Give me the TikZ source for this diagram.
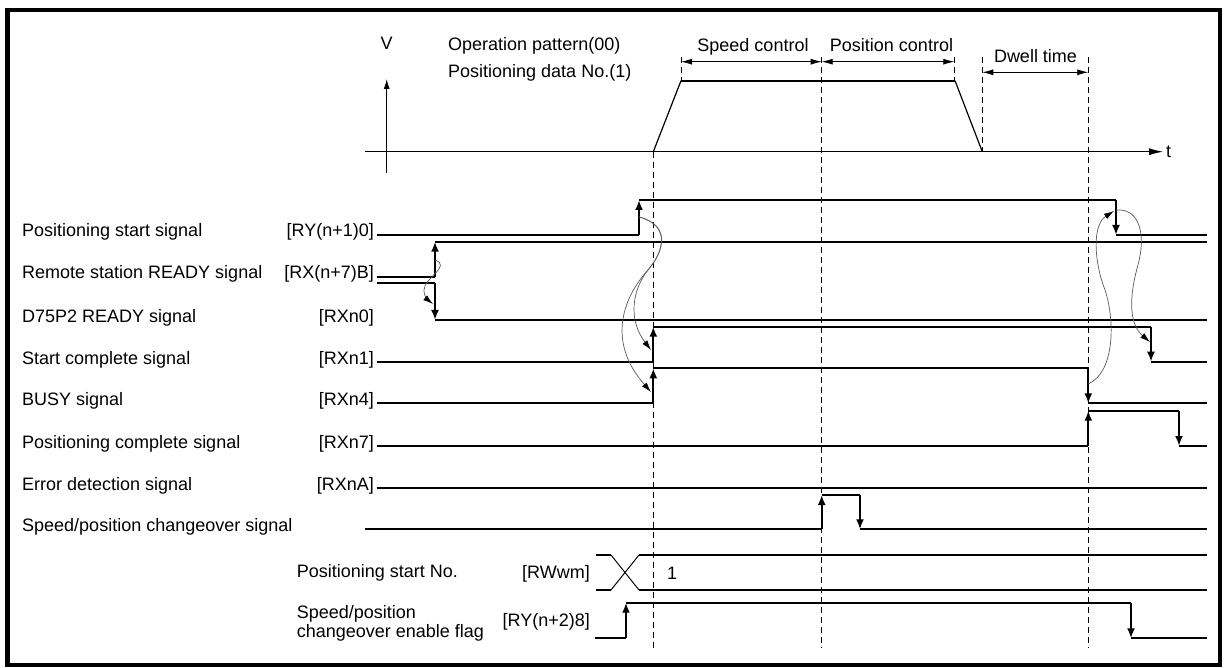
\documentclass[tikz,border=0pt]{standalone}
\usepackage{fontspec}
\setmainfont{Liberation Sans}
\usetikzlibrary{arrows.meta}
\begin{document}
\begin{tikzpicture}[x=1pt,y=-1pt,
  txt/.style={inner sep=0pt, font=\fontsize{18}{20}\selectfont},
  lbl/.style={txt, anchor=base west},
  tag/.style={txt, anchor=base east},
  ctr/.style={txt, anchor=base},
  sig/.style={line width=2pt},
  edgeup/.style={line width=2pt, -{Latex[length=10pt,width=8pt]}},
  axis/.style={line width=1pt},
  dsh/.style={line width=0.9pt, dash pattern=on 6pt off 4pt},
  dim/.style={line width=0.8pt, {Latex[length=11pt,width=6pt]}-{Latex[length=11pt,width=6pt]}},
  cause/.style={line width=0.7pt, draw=black!65, -{Latex[length=10pt,width=6pt,color=black]}}
]
\useasboundingbox (0,0) rectangle (1224,668);
% frame
\draw[line width=4.5pt] (7.5,10) rectangle (1220,665);

% ---- velocity graph ----
\coordinate (vb) at (386.7,172.7); \coordinate (vt) at (386.7,79);
\draw[axis, -{Latex[length=10pt,width=6pt]}] (vb) -- (vt);
\coordinate (tl) at (365,151.7); \coordinate (tr) at (1163,151.7);
\draw[axis, -{Latex[length=14pt,width=7pt]}] (tl) -- (tr);
\node[ctr] (V) at (386.7,50) {V};
\node[lbl] (tlab) at (1166,158) {t};
\node[lbl] (op) at (448,51) {Operation pattern(00)};
\node[lbl] (pd) at (448,77.5) {Positioning data No.(1)};

\coordinate (p0) at (653.3,151.7);
\coordinate (p1) at (681,80.7);
\coordinate (p2) at (955,80.7);
\coordinate (p3) at (982.3,151.7);
\draw[line width=1.2pt] (p0) -- (p1);
\draw[line width=2pt] (p1) -- (p2);
\draw[line width=1.2pt] (p2) -- (p3);

% dashed guides
\draw[dsh] (653.3,151.7) -- (653.3,648);
\draw[dsh] (681,57) -- (681,80.7);
\draw[dsh] (821.7,57) -- (821.7,648);
\draw[dsh] (954.3,57) -- (954.3,80.7);
\draw[dsh] (982.3,57) -- (982.3,151.7);
\draw[dsh] (1088.3,57) -- (1088.3,648);

% dimension arrows
\coordinate (d1) at (681,61.7); \coordinate (d2) at (821.7,61.7); \coordinate (d3) at (954.3,61.7);
\draw[dim] (d1) -- (d2);
\draw[dim] (d2) -- (d3);
\coordinate (d4) at (982.3,72.3); \coordinate (d5) at (1088.3,72.3);
\draw[dim] (d4) -- (d5);
\node[ctr] (sc) at (753,52) {Speed control};
\node[ctr] (pc) at (891.5,52) {Position control};
\node[ctr] (dw) at (1035.5,62.5) {Dwell time};

% ---- labels ----
\node[lbl] (l1) at (22,237) {Positioning start signal};
\node[tag] (t1) at (374,237) {[RY(n+1)0]};
\node[lbl] (l2) at (22,278.7) {Remote station READY signal};
\node[tag] (t2) at (374,278.7) {[RX(n+7)B]};
\node[lbl] (l3) at (22,323) {D75P2 READY signal};
\node[tag] (t3) at (374,323) {[RXn0]};
\node[lbl] (l4) at (22,364) {Start complete signal};
\node[tag] (t4) at (374,364) {[RXn1]};
\node[lbl] (l5) at (22,405.3) {BUSY signal};
\node[tag] (t5) at (374,405.3) {[RXn4]};
\node[lbl] (l6) at (22,448) {Positioning complete signal};
\node[tag] (t6) at (374,448) {[RXn7]};
\node[lbl] (l7) at (22,490) {Error detection signal};
\node[tag] (t7) at (374,490) {[RXnA]};
\node[lbl] (l8) at (22,531) {Speed/position changeover signal};
\node[lbl] (l9) at (296.7,577) {Positioning start No.};
\node[tag] (t9) at (590,578) {[RWwm]};
\node[lbl] (l10a) at (296.7,618.5) {Speed/position};
\node[lbl] (l10b) at (296.7,637.5) {changeover enable flag};
\node[tag] (t10) at (590,626.5) {[RY(n+2)8]};
\node[lbl] (one) at (667,579) {1};

% ---- signals ----
% 1 positioning start
\draw[sig] (376.7,235) -- (639,235);
\draw[edgeup] (639,235) -- (639,200);
\draw[sig] (639,200) -- (1116,200);
\draw[edgeup] (1116,200) -- (1116,235);
\draw[sig] (1116,235) -- (1207,235);
% 2 remote READY
\draw[sig] (376.7,276.7) -- (435,276.7);
\draw[edgeup] (435,276.7) -- (435,241.7);
\draw[sig] (435,241.7) -- (1207,241.7);
% 3 D75P2 READY
\draw[sig] (376.7,282.7) -- (435,282.7);
\draw[edgeup] (435,282.7) -- (435,320);
\draw[sig] (435,320) -- (1207,320);
% 4 start complete
\draw[sig] (376.7,361.7) -- (653.3,361.7);
\draw[edgeup] (653.3,361.7) -- (653.3,326.7);
\draw[sig] (653.3,326.7) -- (1151,326.7);
\draw[edgeup] (1151,326.7) -- (1151,361.7);
\draw[sig] (1151,361.7) -- (1207,361.7);
% 5 BUSY
\draw[sig] (376.7,403.3) -- (653.3,403.3);
\draw[edgeup] (653.3,403.3) -- (653.3,368.3);
\draw[sig] (653.3,368.3) -- (1088.3,368.3);
\draw[edgeup] (1088.3,368.3) -- (1088.3,403.3);
\draw[sig] (1088.3,403.3) -- (1207,403.3);
% 6 positioning complete
\draw[sig] (376.7,446) -- (1088.3,446);
\draw[edgeup] (1088.3,446) -- (1088.3,410.7);
\draw[sig] (1088.3,410.7) -- (1179,410.7);
\draw[edgeup] (1179,410.7) -- (1179,446);
\draw[sig] (1179,446) -- (1207,446);
% 7 error
\draw[sig] (376.7,487.7) -- (1207,487.7);
% 8 speed/position changeover
\draw[sig] (365,529.3) -- (821.7,529.3);
\draw[edgeup] (821.7,529.3) -- (821.7,495);
\draw[sig] (821.7,495) -- (860,495);
\draw[edgeup] (860,495) -- (860,529.3);
\draw[sig] (860,529.3) -- (1207,529.3);
% 9 bus
\draw[sig] (596,555) -- (611,555);
\draw[sig] (596,590) -- (611,590);
\draw[line width=1pt] (611,555) -- (639,590);
\draw[line width=1pt] (611,590) -- (639,555);
\draw[sig] (639,555) -- (1207,555);
\draw[sig] (639,590) -- (1207,590);
% 10 enable flag
\draw[sig] (595,638.3) -- (626,638.3);
\draw[edgeup] (626,638.3) -- (626,602.7);
\draw[sig] (626,602.7) -- (1131,602.7);
\draw[edgeup] (1131,602.7) -- (1131,638.3);
\draw[sig] (1131,638.3) -- (1207,638.3);

% ---- cause curves ----
\draw[cause] (435,260) .. controls (452,266) and (424,278) .. (424,290) .. controls (424,297) and (428,300) .. (433,304);
\draw[cause] (639,217) .. controls (670,225) and (665,250) .. (648,270) .. controls (632,290) and (628,320) .. (651,350);
\draw[cause] (639,217) .. controls (670,225) and (665,250) .. (648,270) .. controls (625,295) and (605,340) .. (651,392);
\draw[cause] (1088.3,384) .. controls (1115,372) and (1115,320) .. (1105,290) .. controls (1094,262) and (1092,225) .. (1114,211);
\draw[cause] (1116,210) .. controls (1140,208) and (1146,235) .. (1138,265) .. controls (1128,300) and (1130,325) .. (1150,342);
\end{tikzpicture}
\end{document}
